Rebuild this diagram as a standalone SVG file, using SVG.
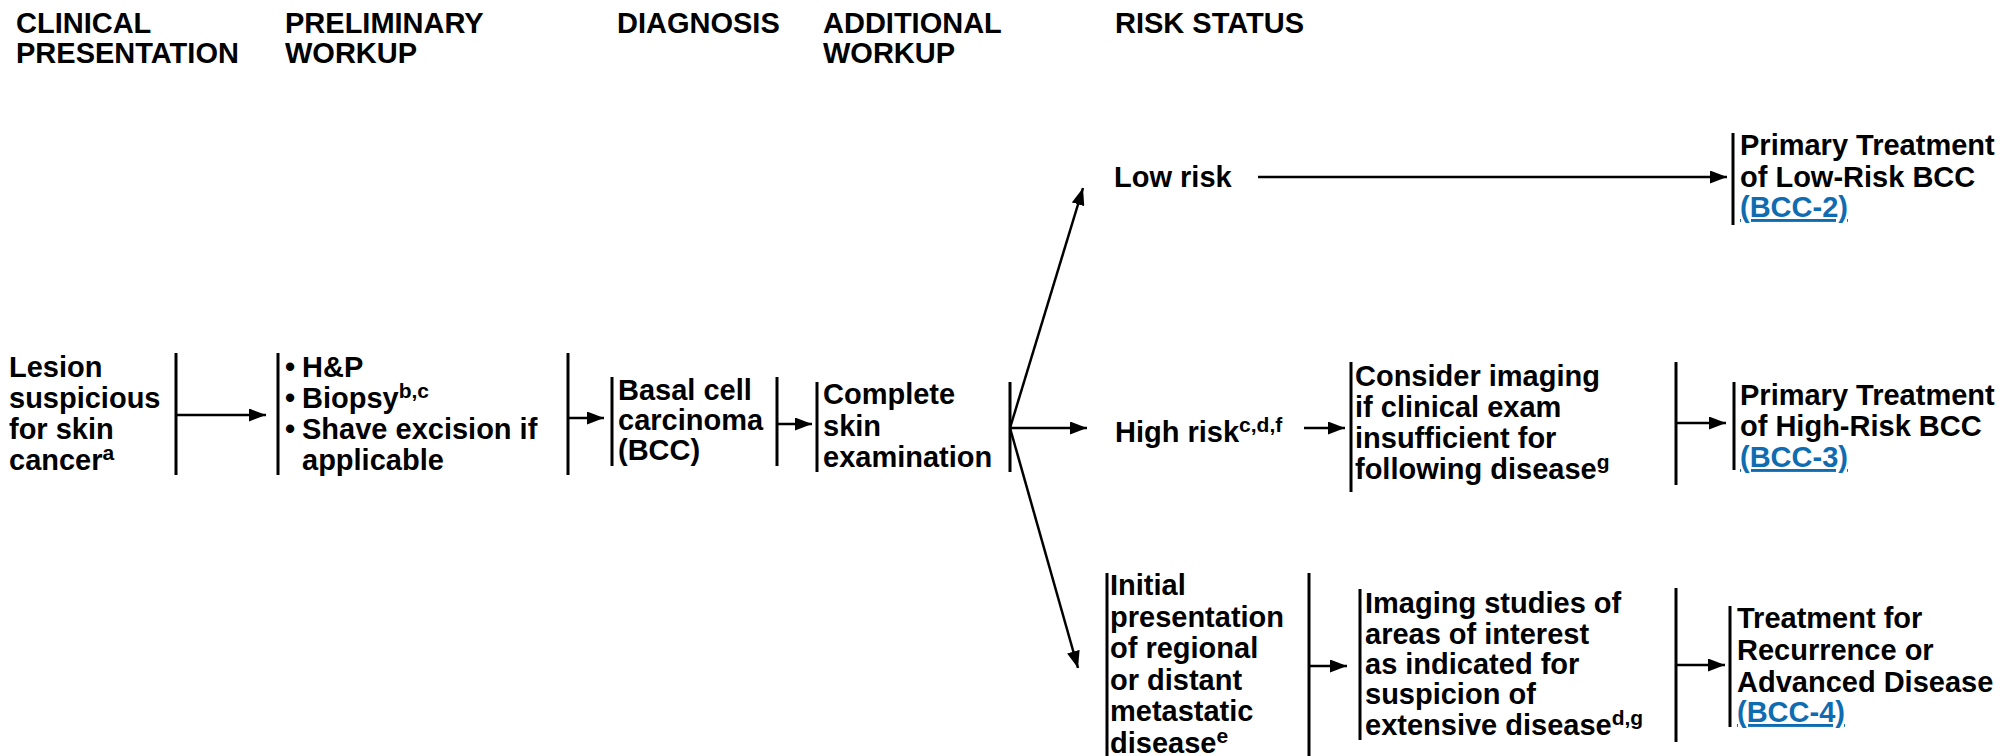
<svg xmlns="http://www.w3.org/2000/svg" width="2003" height="756" viewBox="0 0 2003 756">
<defs>
<style>
.t{font-family:"Liberation Sans",Arial,sans-serif;font-weight:bold;font-size:29px;fill:#000}
.h{font-family:"Liberation Sans",Arial,sans-serif;font-weight:bold;font-size:29px;fill:#000}
.sup{font-size:21px}
.lnk{fill:#0f6cb0;text-decoration:underline}
.bar{stroke:#000;stroke-width:3;fill:none}
.arr{stroke:#000;stroke-width:2.5;fill:none;marker-end:url(#ah)}
</style>
<marker id="ah" markerUnits="userSpaceOnUse" markerWidth="17" markerHeight="13" refX="17" refY="6.5" orient="auto">
<path d="M0,0 L17,6.5 L0,13 z" fill="#000"/>
</marker>
</defs>
<rect width="2003" height="756" fill="#fff"/>

<g id="headers">
<text class="h" x="16" y="33">CLINICAL<tspan x="16" y="63">PRESENTATION</tspan></text>
<text class="h" x="285" y="33">PRELIMINARY<tspan x="285" y="63">WORKUP</tspan></text>
<text class="h" x="617" y="33">DIAGNOSIS</text>
<text class="h" x="823" y="33">ADDITIONAL<tspan x="823" y="63">WORKUP</tspan></text>
<text class="h" x="1115" y="33">RISK STATUS</text>
</g>

<g id="n-lesion">
<text class="t" x="9" y="377">Lesion<tspan x="9" y="408">suspicious</tspan><tspan x="9" y="439">for skin</tspan><tspan x="9" y="470">cancer</tspan><tspan class="sup" dy="-10">a</tspan></text>
<line class="bar" x1="176" y1="353" x2="176" y2="475"/>
</g>

<g id="n-prelim">
<line class="bar" x1="278" y1="353" x2="278" y2="475"/>
<text class="t" x="285" y="377">•<tspan x="302">H&amp;P</tspan><tspan x="285" y="408">•</tspan><tspan x="302">Biopsy</tspan><tspan class="sup" dy="-10">b,c</tspan><tspan x="285" y="439">•</tspan><tspan x="302">Shave excision if</tspan><tspan x="302" y="470">applicable</tspan></text>
<line class="bar" x1="568" y1="353" x2="568" y2="475"/>
</g>

<g id="n-bcc">
<line class="bar" x1="612" y1="377" x2="612" y2="466"/>
<text class="t" x="618" y="400">Basal cell<tspan x="618" y="430">carcinoma</tspan><tspan x="618" y="460">(BCC)</tspan></text>
<line class="bar" x1="777" y1="377" x2="777" y2="466"/>
</g>

<g id="n-exam">
<line class="bar" x1="817" y1="382" x2="817" y2="472"/>
<text class="t" x="823" y="404">Complete<tspan x="823" y="436">skin</tspan><tspan x="823" y="467">examination</tspan></text>
<line class="bar" x1="1010" y1="382" x2="1010" y2="472"/>
</g>

<g id="n-low">
<text class="t" x="1114" y="187">Low risk</text>
</g>

<g id="n-high">
<text class="t" x="1115" y="442">High risk<tspan class="sup" dy="-10">c,d,f</tspan></text>
</g>

<g id="n-meta">
<line class="bar" x1="1107" y1="573" x2="1107" y2="756"/>
<text class="t" x="1110" y="595">Initial<tspan x="1110" y="626.5">presentation</tspan><tspan x="1110" y="658">of regional</tspan><tspan x="1110" y="689.5">or distant</tspan><tspan x="1110" y="721">metastatic</tspan><tspan x="1110" y="752.5">disease</tspan><tspan class="sup" dy="-10">e</tspan></text>
<line class="bar" x1="1309" y1="573" x2="1309" y2="756"/>
</g>

<g id="n-consider">
<line class="bar" x1="1351" y1="362" x2="1351" y2="492"/>
<text class="t" x="1355" y="386">Consider imaging<tspan x="1355" y="417">if clinical exam</tspan><tspan x="1355" y="448">insufficient for</tspan><tspan x="1355" y="479">following disease</tspan><tspan class="sup" dy="-10">g</tspan></text>
<line class="bar" x1="1676" y1="362" x2="1676" y2="485"/>
</g>

<g id="n-imaging">
<line class="bar" x1="1360" y1="589" x2="1360" y2="740"/>
<text class="t" x="1365" y="613">Imaging studies of<tspan x="1365" y="643.5">areas of interest</tspan><tspan x="1365" y="674">as indicated for</tspan><tspan x="1365" y="704">suspicion of</tspan><tspan x="1365" y="734.5">extensive disease</tspan><tspan class="sup" dy="-10">d,g</tspan></text>
<line class="bar" x1="1676" y1="588" x2="1676" y2="742"/>
</g>

<g id="n-tx-low">
<line class="bar" x1="1733" y1="133" x2="1733" y2="225"/>
<text class="t" x="1740" y="155">Primary Treatment<tspan x="1740" y="187">of Low-Risk BCC</tspan><tspan class="lnk" x="1740" y="217">(BCC-2)</tspan></text>
</g>

<g id="n-tx-high">
<line class="bar" x1="1734" y1="382" x2="1734" y2="470"/>
<text class="t" x="1740" y="405">Primary Treatment<tspan x="1740" y="436">of High-Risk BCC</tspan><tspan class="lnk" x="1740" y="467">(BCC-3)</tspan></text>
</g>

<g id="n-tx-adv">
<line class="bar" x1="1730" y1="606" x2="1730" y2="727"/>
<text class="t" x="1737" y="628">Treatment for<tspan x="1737" y="660">Recurrence or</tspan><tspan x="1737" y="692">Advanced Disease</tspan><tspan class="lnk" x="1737" y="722">(BCC-4)</tspan></text>
</g>

<g id="connectors">
<line class="arr" x1="176" y1="415" x2="266" y2="415"/>
<line class="arr" x1="568" y1="418" x2="604" y2="418"/>
<line class="arr" x1="777" y1="424" x2="812" y2="424"/>
<line class="arr" x1="1010" y1="428" x2="1083" y2="188"/>
<line class="arr" x1="1010" y1="428" x2="1087" y2="428"/>
<line class="arr" x1="1010" y1="428" x2="1078" y2="668"/>
<line class="arr" x1="1258" y1="177" x2="1727" y2="177"/>
<line class="arr" x1="1304" y1="428" x2="1345" y2="428"/>
<line class="arr" x1="1676" y1="423" x2="1726" y2="423"/>
<line class="arr" x1="1309" y1="666" x2="1347" y2="666"/>
<line class="arr" x1="1676" y1="665" x2="1725" y2="665"/>
</g>
</svg>
